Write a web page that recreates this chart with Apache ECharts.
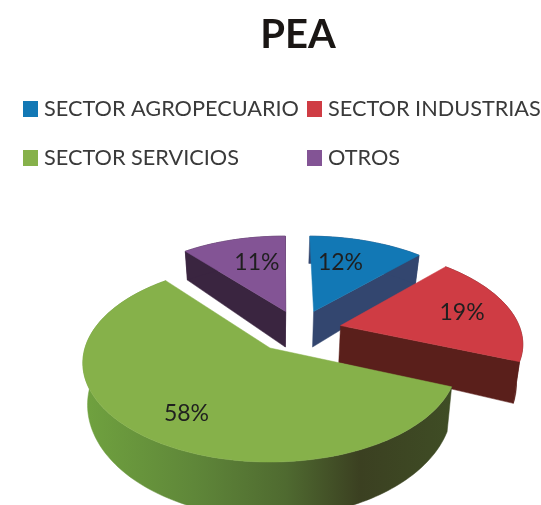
<!DOCTYPE html>
<html>
<head>
<meta charset="utf-8">
<style>html,body{margin:0;padding:0;background:#fff}#c{width:541px;height:505px}</style>
<script src="https://cdn.jsdelivr.net/npm/echarts@6/dist/echarts.min.js"></script>
</head>
<body>
<div id="c"></div>
<script>
const titleText = 'PEA';
const categories = ['SECTOR AGROPECUARIO', 'SECTOR INDUSTRIAS', 'SECTOR SERVICIOS', 'OTROS'];
const values = [12, 19, 58, 11];
const topColors = ['#1278b5', '#cf3c44', '#86b14a', '#835495'];
const sideColors = ['#33466f', '#5a1f1b', '#3f4d25', '#3a2540'];
const explodeX = [0.25, 0.395, 0, 0.09];
const explodeY = [-0.40, -0.24, 0, -0.40];
const labelRadius = [0.64, 0.72, 0.74, 0.635];
const labelShiftDeg = [-5, 0, -3, 3.5];
const drawOrder = [2, 3, 4, 1];
const startAngleDeg = 0.6;

// projection of the pie plane (a circle of radius 1) onto the screen
const apexX = 270, apexY = 348, radX = 185, radY = 96.8, persp = 0.151, depth = 40, converge = 0.975;
function project(px, py) {
  const s = 1 / (1 - persp * py);
  return { x: apexX + radX * px * s, y: apexY + radY * py * s, s: s };
}
function topPoint(px, py) { const p = project(px, py); return [p.x, p.y]; }
function bottomPoint(px, py) {
  const p = project(px, py);
  return [apexX + (p.x - apexX) * converge, p.y + depth * p.s * p.s];
}
const total = values.reduce((a, b) => a + b, 0);
const starts = values.map((_, i) => (startAngleDeg / 360 + values.slice(0, i).reduce((a, b) => a + b, 0) / total) * Math.PI * 2);

function makeRender(i) {
  return function (params, api) {
    const a0 = starts[i];
    const a1 = a0 + api.value(0) / total * Math.PI * 2;
    const ox = explodeX[i], oy = explodeY[i];
    const steps = Math.max(8, Math.round((a1 - a0) * 40));
    const arc = [];
    for (let k = 0; k <= steps; k++) {
      const a = a0 + (a1 - a0) * k / steps;
      arc.push([ox + Math.sin(a), oy - Math.cos(a)]);
    }
    const side = i === 2 ? {
      type: 'linear', x: 83, y: 0, x2: 452, y2: 0, global: true,
      colorStops: [
        { offset: 0, color: '#70a23f' },
        { offset: 0.3, color: '#5f8739' },
        { offset: 0.55, color: '#4f6a30' },
        { offset: 0.75, color: '#3b4021' },
        { offset: 1, color: '#3f4d25' }
      ]
    } : sideColors[i];
    const face = (a, b) => ({
      type: 'polygon',
      shape: { points: [topPoint(a[0], a[1]), topPoint(b[0], b[1]), bottomPoint(b[0], b[1]), bottomPoint(a[0], a[1])] },
      style: { fill: side, stroke: side, lineWidth: 0.5 }
    });
    const apex = [ox, oy];
    const children = [];
    // a cut face is drawn only when it turns towards the viewer
    if (-Math.sin(a0) > 0) children.push(face(apex, arc[0]));
    if (Math.sin(a1) > 0) children.push(face(apex, arc[arc.length - 1]));
    children.push({
      type: 'polygon',
      shape: { points: arc.map(p => topPoint(p[0], p[1])).concat(arc.slice().reverse().map(p => bottomPoint(p[0], p[1]))) },
      style: { fill: side, stroke: side, lineWidth: 0.5 }
    });
    children.push({
      type: 'polygon',
      shape: { points: [topPoint(ox, oy)].concat(arc.map(p => topPoint(p[0], p[1]))) },
      style: { fill: topColors[i], stroke: topColors[i], lineWidth: 0.5 }
    });
    const m = (a0 + a1) / 2 + labelShiftDeg[i] * Math.PI / 180, r = labelRadius[i];
    const lp = topPoint(ox + r * Math.sin(m), oy - r * Math.cos(m));
    children.push({
      type: 'text', z2: 100, x: lp[0], y: lp[1],
      style: {
        text: api.value(0) + '%', fill: '#1f1f1f', align: 'center', verticalAlign: 'middle',
        font: '23px Lato'
      }
    });
    return { type: 'group', children: children };
  };
}

const legendBase = {
  orient: 'vertical', top: 93, itemWidth: 15, itemHeight: 16, itemGap: 27,
  icon: 'rect', selectedMode: false,
  textStyle: { fontFamily: 'Lato', fontSize: 21.7, color: '#3a3a3a', padding: [0, 0, 0, 1] }
};
const chart = echarts.init(document.getElementById('c'), null, { renderer: 'canvas' });
chart.setOption({
  animation: false,
  backgroundColor: '#ffffff',
  title: {
    text: titleText, left: 293, top: 10, textAlign: 'center',
    textStyle: { fontFamily: 'Lato', fontWeight: 'bold', fontSize: 40, color: '#1a1614' }
  },
  legend: [
    Object.assign({}, legendBase, { left: 18, data: [categories[0], categories[2]] }),
    Object.assign({}, legendBase, { left: 302, data: [categories[1], categories[3]] })
  ],
  series: categories.map((name, i) => ({
    type: 'custom',
    name: name,
    coordinateSystem: 'none',
    z: drawOrder[i],
    silent: true,
    clip: false,
    itemStyle: { color: topColors[i] },
    renderItem: makeRender(i),
    data: [values[i]]
  }))
});
</script>
</body>
</html>
